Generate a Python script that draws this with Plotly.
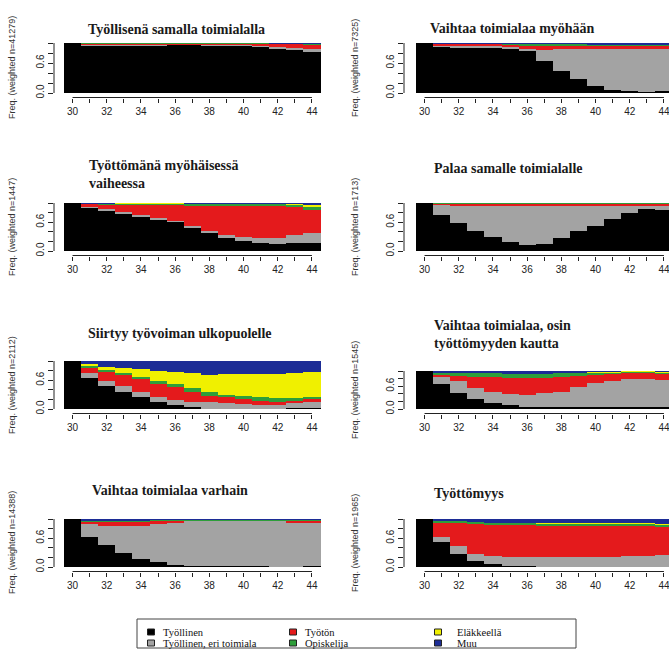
import plotly.graph_objects as go

W, H = 669, 649

ages = list(range(30, 45))
xtick_labels = [str(a) if a % 2 == 0 else "" for a in ages]
ytick_vals = [0, 0.2, 0.4, 0.6, 0.8, 1.0]
ytick_labels = ["0.0", "", "", "0.6", "", ""]

states = ["Työllinen", "Työllinen, eri toimiala", "Työtön", "Opiskelija", "Eläkkeellä", "Muu"]
state_colors = ["#000000", "#A3A3A3", "#E41A1C", "#2E9E3A", "#F0F000", "#1C2C96"]

titles = [
    "Työllisenä samalla toimialalla",
    "Vaihtaa toimialaa myöhään",
    "Työttömänä myöhäisessä<br>vaiheessa",
    "Palaa samalle toimialalle",
    "Siirtyy työvoiman ulkopuolelle",
    "Vaihtaa toimialaa, osin<br>työttömyyden kautta",
    "Vaihtaa toimialaa varhain",
    "Työttömyys",
]
weighted_n = [41279, 7325, 1447, 1713, 2112, 1545, 14388, 1965]

# state shares per age (30..44), order: Työllinen, eri toimiala, Työtön, Opiskelija, Eläkkeellä, Muu
samalla = [
    [1.0, 0.95, 0.95, 0.95, 0.95, 0.95, 0.96, 0.96, 0.95, 0.94, 0.94, 0.92, 0.89, 0.86, 0.83],
    [0, 0.01, 0.01, 0.01, 0.01, 0.01, 0.01, 0.01, 0.01, 0.02, 0.02, 0.03, 0.04, 0.05, 0.06],
    [0, 0.03, 0.03, 0.03, 0.03, 0.03, 0.02, 0.02, 0.03, 0.03, 0.03, 0.04, 0.05, 0.07, 0.08],
    [0, 0.01, 0.01, 0.01, 0.01, 0.01, 0.01, 0.01, 0.01, 0.01, 0.01, 0.01, 0.01, 0.01, 0.01],
    [0, 0, 0, 0, 0, 0, 0, 0, 0, 0, 0, 0, 0, 0, 0],
    [0, 0, 0, 0, 0, 0, 0, 0, 0, 0, 0, 0, 0.01, 0.01, 0.02],
]
myohaan = [
    [1.0, 0.93, 0.91, 0.91, 0.91, 0.89, 0.85, 0.65, 0.45, 0.29, 0.15, 0.07, 0.05, 0.03, 0.05],
    [0, 0.02, 0.03, 0.03, 0.03, 0.04, 0.03, 0.22, 0.43, 0.59, 0.73, 0.82, 0.84, 0.86, 0.84],
    [0, 0.03, 0.04, 0.04, 0.04, 0.04, 0.07, 0.07, 0.06, 0.06, 0.06, 0.06, 0.06, 0.06, 0.06],
    [0, 0.01, 0.01, 0.01, 0.01, 0.02, 0.03, 0.04, 0.04, 0.04, 0.03, 0.02, 0.02, 0.02, 0.02],
    [0, 0, 0, 0, 0, 0, 0, 0, 0, 0, 0, 0, 0, 0, 0],
    [0, 0.01, 0.01, 0.01, 0.01, 0.01, 0.02, 0.02, 0.02, 0.02, 0.03, 0.03, 0.03, 0.03, 0.03],
]
tyottomana = [
    [1.0, 0.90, 0.85, 0.79, 0.72, 0.66, 0.61, 0.49, 0.39, 0.28, 0.21, 0.16, 0.14, 0.16, 0.16],
    [0, 0.02, 0.02, 0.02, 0.02, 0.02, 0.02, 0.03, 0.03, 0.06, 0.09, 0.12, 0.14, 0.17, 0.21],
    [0, 0.06, 0.10, 0.16, 0.23, 0.29, 0.34, 0.42, 0.51, 0.59, 0.63, 0.65, 0.65, 0.59, 0.48],
    [0, 0.01, 0.02, 0.02, 0.02, 0.02, 0.02, 0.04, 0.05, 0.05, 0.05, 0.05, 0.05, 0.04, 0.07],
    [0, 0, 0, 0.01, 0.01, 0.01, 0.01, 0, 0, 0, 0, 0, 0, 0.02, 0.03],
    [0, 0.01, 0.01, 0, 0, 0, 0, 0.02, 0.02, 0.02, 0.02, 0.02, 0.02, 0.02, 0.05],
]
palaa = [
    [1.0, 0.76, 0.59, 0.42, 0.30, 0.18, 0.13, 0.14, 0.27, 0.41, 0.52, 0.66, 0.79, 0.89, 0.85],
    [0, 0.20, 0.36, 0.52, 0.64, 0.76, 0.81, 0.80, 0.67, 0.53, 0.42, 0.28, 0.14, 0.04, 0.08],
    [0, 0.03, 0.04, 0.05, 0.05, 0.05, 0.05, 0.05, 0.05, 0.05, 0.05, 0.05, 0.06, 0.06, 0.06],
    [0, 0.01, 0.01, 0.01, 0.01, 0.01, 0.01, 0.01, 0.01, 0.01, 0.01, 0.01, 0.01, 0.01, 0.01],
    [0, 0, 0, 0, 0, 0, 0, 0, 0, 0, 0, 0, 0, 0, 0],
    [0, 0, 0, 0, 0, 0, 0, 0, 0, 0, 0, 0, 0, 0, 0],
]
siirtyy = [
    [1.0, 0.65, 0.48, 0.36, 0.24, 0.15, 0.08, 0.05, 0.01, 0.01, 0.01, 0.01, 0.01, 0.02, 0.02],
    [0, 0.11, 0.11, 0.12, 0.11, 0.11, 0.11, 0.10, 0.13, 0.11, 0.09, 0.07, 0.08, 0.10, 0.12],
    [0, 0.11, 0.19, 0.23, 0.27, 0.26, 0.26, 0.21, 0.13, 0.12, 0.10, 0.09, 0.05, 0.05, 0.06],
    [0, 0.03, 0.03, 0.03, 0.05, 0.06, 0.07, 0.07, 0.09, 0.05, 0.07, 0.07, 0.08, 0.06, 0.06],
    [0, 0.03, 0.07, 0.11, 0.16, 0.22, 0.26, 0.31, 0.35, 0.44, 0.46, 0.48, 0.51, 0.53, 0.52],
    [0, 0.07, 0.12, 0.15, 0.17, 0.20, 0.22, 0.26, 0.29, 0.27, 0.27, 0.28, 0.27, 0.24, 0.22],
]
osin = [
    [1.0, 0.65, 0.41, 0.26, 0.17, 0.10, 0.06, 0.04, 0.04, 0.04, 0.04, 0.04, 0.04, 0.04, 0.04],
    [0, 0.20, 0.33, 0.28, 0.27, 0.29, 0.31, 0.37, 0.42, 0.53, 0.64, 0.71, 0.74, 0.76, 0.72],
    [0, 0.07, 0.13, 0.31, 0.39, 0.43, 0.44, 0.41, 0.39, 0.31, 0.24, 0.19, 0.18, 0.16, 0.18],
    [0, 0.05, 0.08, 0.10, 0.11, 0.11, 0.12, 0.11, 0.09, 0.07, 0.05, 0.03, 0.02, 0.02, 0.03],
    [0, 0, 0, 0, 0, 0, 0, 0, 0, 0, 0.01, 0.01, 0.02, 0.02, 0.01],
    [0, 0.03, 0.05, 0.05, 0.06, 0.07, 0.07, 0.07, 0.06, 0.05, 0.02, 0.02, 0.00, 0.00, 0.02],
]
varhain = [
    [1.0, 0.63, 0.45, 0.29, 0.17, 0.10, 0.04, 0.03, 0.03, 0.03, 0.03, 0.02, 0.01, 0.01, 0.03],
    [0, 0.26, 0.41, 0.57, 0.69, 0.80, 0.88, 0.93, 0.93, 0.93, 0.93, 0.94, 0.95, 0.92, 0.90],
    [0, 0.05, 0.09, 0.09, 0.09, 0.06, 0.04, 0.01, 0.01, 0.01, 0.01, 0.01, 0.01, 0.04, 0.04],
    [0, 0.03, 0.02, 0.02, 0.02, 0.02, 0.02, 0.01, 0.01, 0.01, 0.01, 0.01, 0.01, 0.01, 0.01],
    [0, 0, 0, 0, 0, 0, 0, 0.01, 0.01, 0.01, 0.01, 0.01, 0.01, 0.01, 0.01],
    [0, 0.03, 0.03, 0.03, 0.03, 0.02, 0.02, 0.01, 0.01, 0.01, 0.01, 0.01, 0.01, 0.01, 0.01],
]
tyottomyys = [
    [1.0, 0.53, 0.27, 0.12, 0.06, 0.03, 0.02, 0.01, 0.01, 0.01, 0.01, 0.01, 0.01, 0.01, 0.01],
    [0, 0.09, 0.16, 0.16, 0.16, 0.18, 0.19, 0.20, 0.20, 0.20, 0.20, 0.20, 0.21, 0.21, 0.23],
    [0, 0.31, 0.49, 0.63, 0.66, 0.67, 0.67, 0.65, 0.65, 0.65, 0.65, 0.65, 0.64, 0.64, 0.59],
    [0, 0.02, 0.03, 0.03, 0.04, 0.04, 0.04, 0.04, 0.04, 0.04, 0.04, 0.04, 0.04, 0.04, 0.05],
    [0, 0, 0, 0, 0, 0, 0, 0.01, 0.01, 0.01, 0.01, 0.01, 0.01, 0.01, 0.02],
    [0, 0.05, 0.05, 0.06, 0.08, 0.08, 0.08, 0.09, 0.09, 0.09, 0.09, 0.09, 0.09, 0.09, 0.10],
]
panels = [samalla, myohaan, tyottomana, palaa, siirtyy, osin, varhain, tyottomyys]

# ---------------- layout geometry (pixels) ----------------
def fx(px):
    return px / W

def fy(py):
    return 1 - py / H

PPY = 17.1  # pixels per year
cols = [dict(axis=54, plot=64, right=321), dict(axis=404, plot=416, right=669)]
rows_tb = [[(43, 93), (43, 93)], [(203, 251), (203, 251)], [(361, 409), (371, 409)], [(519, 567), (519, 567)]]
title_pos = [(86, 30), (428, 28), (87, 174), (432, 168), (86, 333), (432, 334), (90, 490), (432, 493)]
ylab_x = [12, 355]
OFF = 4.5

TICKFONT = dict(family="Liberation Sans, Arial, sans-serif", size=10, color="#222")
fig = go.Figure()
layout = dict(
    width=W, height=H, margin=dict(l=0, r=0, t=0, b=0),
    paper_bgcolor="white", plot_bgcolor="white",
    barmode="stack", bargap=0, showlegend=False,
)
shapes, annotations = [], []

for i, data in enumerate(panels):
    r, c = divmod(i, 2)
    col = cols[c]
    top, bot = rows_tb[r][c]
    h = bot - top
    suffix = "" if i == 0 else str(i + 1)
    xa, ya = f"x{suffix}", f"y{suffix}"
    for s, (name, color) in enumerate(zip(states, state_colors)):
        fig.add_trace(go.Bar(
            x=ages, y=data[s], name=name, width=1,
            marker=dict(color=color, line=dict(width=0)),
            xaxis=xa, yaxis=ya, hoverinfo="name+y",
        ))
    xr0 = 29.5 - (col["plot"] - col["axis"]) / PPY
    xr1 = 29.5 + (col["right"] - col["plot"]) / PPY
    layout[f"xaxis{suffix}"] = dict(
        domain=[fx(col["axis"]), fx(col["right"])], range=[xr0, xr1], anchor=ya,
        tickmode="array", tickvals=ages, ticktext=xtick_labels,
        ticks="outside", ticklen=4, tickwidth=1, tickcolor="#222",
        showgrid=False, zeroline=False, showline=False, tickfont=TICKFONT,
        ticklabeloverflow="allow", fixedrange=True,
    )
    layout[f"yaxis{suffix}"] = dict(
        domain=[fy(bot + OFF), fy(top)], range=[-OFF / h, 1.0], anchor=xa,
        tickmode="array", tickvals=ytick_vals, ticktext=ytick_labels, tickangle=-90,
        ticks="outside", ticklen=5, tickwidth=1, tickcolor="#222",
        showgrid=False, zeroline=False, showline=False, tickfont=TICKFONT,
        fixedrange=True,
    )
    # R style axis lines
    shapes.append(dict(type="line", xref=xa, yref=f"{ya} domain", x0=30, x1=44, y0=0, y1=0,
                       line=dict(color="#222", width=1)))
    shapes.append(dict(type="line", xref=f"{xa} domain", yref=ya, x0=0, x1=0, y0=0, y1=1,
                       line=dict(color="#222", width=1)))
    # title
    tx, ty = title_pos[i]
    annotations.append(dict(
        text=f"<b>{titles[i]}</b>", x=fx(tx), y=fy(ty), xref="paper", yref="paper",
        xanchor="left", yanchor="middle", align="left", showarrow=False,
        font=dict(family="Liberation Serif, DejaVu Serif, serif", size=14, color="#1a1a1a"),
    ))
    # y axis title
    annotations.append(dict(
        text=f"Freq. (weighted n={weighted_n[i]})", x=fx(ylab_x[c]), y=fy((top + bot) / 2),
        xref="paper", yref="paper", xanchor="center", yanchor="middle", textangle=-90,
        showarrow=False, font=dict(family="Liberation Sans, Arial, sans-serif", size=9, color="#333"),
    ))

# ---------------- legend (drawn box) ----------------
shapes.append(dict(type="rect", xref="paper", yref="paper",
                   x0=fx(137), x1=fx(576), y0=fy(648), y1=fy(619),
                   line=dict(color="#444", width=1), fillcolor="white"))
leg_sq_x = [151, 151, 293, 293, 438, 438]
leg_tx_x = [161, 161, 303, 303, 455, 455]
leg_y = [632, 643, 632, 643, 632, 643]
for k in range(len(states)):
    sx, sy = leg_sq_x[k], leg_y[k]
    shapes.append(dict(type="rect", xref="paper", yref="paper",
                       x0=fx(sx - 3.5), x1=fx(sx + 3.5), y0=fy(sy + 3), y1=fy(sy - 3),
                       line=dict(color="#222", width=1), fillcolor=state_colors[k]))
    annotations.append(dict(
        text=states[k], x=fx(leg_tx_x[k]), y=fy(sy), xref="paper", yref="paper",
        xanchor="left", yanchor="middle", showarrow=False,
        font=dict(family="Liberation Serif, DejaVu Serif, serif", size=10.5, color="#111"),
    ))

layout["shapes"] = shapes
layout["annotations"] = annotations
fig.update_layout(**layout)
fig.write_html("out.html")
